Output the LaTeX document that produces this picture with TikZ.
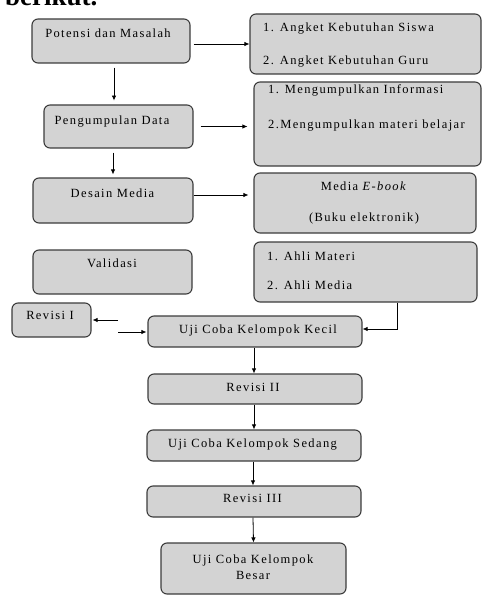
\documentclass[tikz,border=0pt]{standalone}
\usepackage{fontspec}
\setmainfont{Liberation Serif}
\usetikzlibrary{arrows.meta,calc}
\definecolor{boxfill}{RGB}{211,211,211}
\definecolor{boxline}{RGB}{60,60,60}
\tikzset{
  box/.style={draw=boxline, fill=boxfill, line width=1.1pt, rounded corners=6pt, inner sep=0pt},
  txt/.style={inner sep=0pt, text height=1.5ex, text depth=.3ex, font=\fontsize{12.5}{16}\selectfont\addfontfeatures{LetterSpace=11}},
  arr/.style={-{Latex[length=5pt,width=4.5pt]}, line width=0.8pt, black},
}
\begin{document}
\begin{tikzpicture}[x=1pt,y=-1pt]
\useasboundingbox (0,0) rectangle (483,596);
\clip (0,0) rectangle (483,596);
\node[anchor=base west, inner sep=0pt, font=\fontsize{27}{30}\selectfont\bfseries] (ttop) at (5,6) {berikut.};
% boxes
\node[box, minimum width=158pt, minimum height=44pt] (pdm) at (111,41) {};
\node[box, minimum width=231pt, minimum height=60pt] (r1) at (365.5,44) {};
\node[box, minimum width=149pt, minimum height=43pt] (pd) at (118.5,126.5) {};
\node[box, minimum width=227pt, minimum height=84pt] (r2) at (367.5,124) {};
\node[box, minimum width=160pt, minimum height=45pt] (dm) at (113,200.5) {};
\node[box, minimum width=222pt, minimum height=60pt] (r3) at (365,203) {};
\node[box, minimum width=159pt, minimum height=44pt] (val) at (112.5,272) {};
\node[box, minimum width=223pt, minimum height=60pt] (r4) at (365.5,272) {};
\node[box, minimum width=79pt, minimum height=34pt] (rev1) at (51.5,320) {};
\node[box, minimum width=214pt, minimum height=31pt] (ukk) at (255,331.5) {};
\node[box, minimum width=214pt, minimum height=30pt] (rev2) at (255,389) {};
\node[box, minimum width=214pt, minimum height=31pt] (uks) at (254,445.5) {};
\node[box, minimum width=214pt, minimum height=31pt] (rev3) at (254,501.5) {};
\node[box, minimum width=185pt, minimum height=51pt] (uckb) at (253.5,568.5) {};
% texts
\node[txt] (tpdm) at (108,35) {Potensi dan Masalah};
\node[txt] (tpd) at (112,122) {Pengumpulan Data};
\node[txt] (tdm) at (112.5,195) {Desain Media};
\node[txt] (tval) at (112,265) {Validasi};
\node[txt] (trev1) at (50,317) {Revisi I};
\node[txt] (tukk) at (258,331) {Uji Coba Kelompok Kecil};
\node[txt] (trev2) at (253,389) {Revisi II};
\node[txt] (tuks) at (252.5,445) {Uji Coba Kelompok Sedang};
\node[txt] (trev3) at (252.5,500) {Revisi III};
\node[txt, align=center, text height=, text depth=] (tuckb) at (253,567) {Uji Coba Kelompok\\Besar};
\node[txt, anchor=west] (t1a) at (263,29) {1. Angket Kebutuhan Siswa};
\node[txt, anchor=west] (t1b) at (263,62) {2. Angket Kebutuhan Guru};
\node[txt, anchor=west] (t2a) at (268,91) {1. Mengumpulkan Informasi};
\node[txt, anchor=west] (t2b) at (268,126) {2.Mengumpulkan materi belajar};
\node[txt] (t3a) at (364,188) {Media \textit{E-book}};
\node[txt] (t3b) at (364,219) {(Buku elektronik)};
\node[txt, anchor=west] (t4a) at (267,258) {1. Ahli Materi};
\node[txt, anchor=west] (t4b) at (267,287) {2. Ahli Media};
% connectors
\draw[arr] ($(pdm.east)+(3,3)$) -- (r1.west);
\draw[arr] ($(pdm.south)+(3,4)$) -- ($(pdm.south)+(3,37)$);
\draw[arr] ($(pd.east)+(7,0)$) -- ($(r2.west)+(-6,2.5)$);
\draw[arr] ($(pd.south)+(-5.5,4)$) -- ($(dm.north)+(0,-3)$);
\draw[arr] ($(dm.east)+(0,-5.5)$) -- ($(r3.west)+(-5,-8)$);
\draw[arr] ($(r4.south)+(31.5,0)$) |- ($(ukk.east)+(0,-2.5)$);
\coordinate (f1) at (118,320);
\coordinate (f2) at (118,332);
\draw[arr] (f1) -- ($(rev1.east)+(1,0)$);
\draw[arr] (f2) -- ($(ukk.west |- f2)+(-1,0)$);
\draw[arr] ($(ukk.south)+(-1,0)$) -- ($(rev2.north)+(-1,0)$);
\draw[arr] ($(rev2.south)+(-1,0)$) -- ($(rev2.south |- uks.north)+(-1,0)$);
\draw[arr] ($(uks.south)+(-1,0)$) -- ($(rev3.north)+(-1,0)$);
\draw[arr] ($(rev3.south)+(-1,0)$) -- ($(rev3.south |- uckb.north)+(-0.5,0)$);
\end{tikzpicture}
\end{document}
